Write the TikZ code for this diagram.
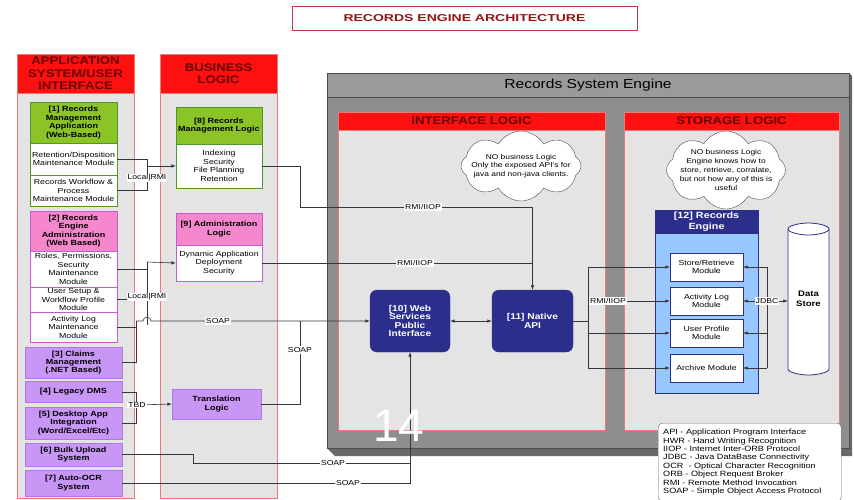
\documentclass[tikz,border=0pt]{standalone}
\usepackage{fontspec}
\setmainfont{Liberation Sans}[FakeStretch=1.2]
\newfontfamily\wideface{Liberation Sans}[FakeStretch=1.4]
\newfontfamily\plainface{Liberation Sans}
\usetikzlibrary{arrows.meta,shapes.symbols}

\newlength{\du}
\setlength{\du}{1pt}

\definecolor{hdrred}{RGB}{252,16,16}
\definecolor{hdrtext}{RGB}{105,0,0}
\definecolor{colfill}{RGB}{228,228,228}
\definecolor{colline}{RGB}{238,120,120}
\definecolor{titleline}{RGB}{190,60,70}
\definecolor{titletext}{RGB}{150,20,20}
\definecolor{rmgreen}{RGB}{140,196,40}
\definecolor{rmline}{RGB}{80,150,40}
\definecolor{adpink}{RGB}{245,135,205}
\definecolor{adline}{RGB}{200,90,210}
\definecolor{clpurple}{RGB}{200,150,245}
\definecolor{clline}{RGB}{175,120,230}
\definecolor{navy}{RGB}{44,46,140}
\definecolor{reblue}{RGB}{150,200,255}
\definecolor{enggray}{RGB}{142,142,142}
\definecolor{engtop}{RGB}{154,154,154}
\definecolor{engshade}{RGB}{105,105,105}
\definecolor{linegray}{RGB}{55,55,55}

\newcommand{\modfont}{\fontsize{7.3}{8.6}\selectfont}
\newcommand{\hdfont}{\fontsize{7.5}{8.4}\selectfont\bfseries}
\newcommand{\colfont}{\fontsize{11}{12.5}\selectfont\bfseries}
\newcommand{\panelfont}{\fontsize{11}{11}\selectfont\bfseries}
\newcommand{\apifont}{\fontsize{8.5}{8.6}\selectfont\bfseries}
\newcommand{\titlefont}{\wideface\fontsize{10}{10}\selectfont\bfseries}
\newcommand{\lblfont}{\fontsize{7.2}{8}\selectfont}

\tikzset{
  colbody/.style={draw=colline, fill=colfill, line width=0.8pt},
  colhead/.style={draw=colline, fill=hdrred, text=hdrtext, font=\colfont, align=center, minimum width=117, minimum height=39, inner sep=0pt},
  titlebox/.style={draw=titleline, fill=white, text=titletext, font=\titlefont, minimum width=345, minimum height=24},
  rmhead/.style={draw=rmline, fill=rmgreen, font=\hdfont, align=center, minimum width=87, inner sep=0pt},
  rmmod/.style={draw=rmline, fill=white, font=\modfont, align=center, minimum width=87, inner sep=0pt},
  adhead/.style={draw=adline, fill=adpink, font=\hdfont, align=center, minimum width=87, inner sep=0pt},
  admod/.style={draw=adline, fill=white, font=\modfont, align=center, minimum width=87, inner sep=0pt},
  clbox/.style={draw=clline, fill=clpurple, font=\hdfont, align=center, minimum width=97, inner sep=0pt},
  engbody/.style={draw=black!70, fill=enggray, line width=0.8pt},
  engbar/.style={draw=black!70, fill=engtop, line width=0.8pt},
  panel/.style={draw=colline, fill=colfill, line width=0.8pt},
  panelhead/.style={draw=colline, fill=hdrred, text=hdrtext, font=\panelfont, minimum height=18, inner sep=0pt},
  cloudnote/.style={cloud, cloud puffs=8, cloud puff arc=120, draw=black!70, fill=white},
  notetext/.style={font=\fontsize{7}{8.8}\selectfont, align=center},
  apibox/.style={draw=navy, fill=navy, text=white, font=\apifont, align=center, rounded corners=7, minimum width=80, minimum height=62},
  rehead/.style={draw=navy, fill=navy, text=white, font=\fontsize{9}{10.5}\selectfont\bfseries, align=center, minimum width=103, minimum height=23, inner sep=0pt},
  rebody/.style={draw=navy, fill=reblue, line width=0.8pt},
  remod/.style={draw=navy, fill=white, font=\modfont, align=center, minimum width=73, minimum height=28, inner sep=0pt},
  dsbody/.style={draw=navy, fill=white, line width=0.8pt},
  legendbox/.style={draw=black!60, fill=white, rounded corners=4, align=left, font=\fontsize{7.6}{8.4}\selectfont, text width=173, inner xsep=5pt, inner ysep=6pt},
  conn/.style={draw=linegray, line width=0.6pt},
  lbl/.style={fill=white, font=\lblfont, inner sep=1pt}
}

\begin{document}
\begin{tikzpicture}[x=\du, y=-\du, >={Latex[length=4.5pt,width=3.5pt]}]
\useasboundingbox (0,0) rectangle (854,499);

% title
\node[titlebox] (title) at (464.5,18) {RECORDS ENGINE ARCHITECTURE};

% left columns
\draw[colbody] (17,93) rectangle (134,498);
\draw[colbody] (160,93) rectangle (277,498);
\node[colhead] (apphd) at (75.5,73.5) {APPLICATION\\SYSTEM/USER\\INTERFACE};
\node[colhead] (bizhd) at (218.5,73.5) {BUSINESS\\LOGIC};

% records system engine
\fill[engshade] (327,448) -- (335,456) -- (852,456) -- (852,76) -- (849,73) -- cycle;
\draw[engbody] (327,73) rectangle (849,448);
\draw[engbar] (327,73) rectangle (849,97);
\node[font=\fontsize{13}{13}\selectfont] (engttl) at (588,85.5) {Records System Engine};
\draw[panel] (338,130) rectangle (605,430);
\node[panelhead, minimum width=267] (ifhd) at (471.5,121) {INTERFACE LOGIC};
\draw[panel] (624,130) rectangle (839,430);
\node[panelhead, minimum width=215] (sthd) at (731.5,121) {STORAGE LOGIC};

% clouds
\node[cloudnote, minimum width=120, minimum height=70] (cld1) at (521,166) {};
\node[notetext] (cldtxt1) at (cld1) {NO business Logic\\Only the exposed API's for\\java and non-java clients.};
\node[cloudnote, minimum width=119, minimum height=78] (cld2) at (726,170) {};
\node[notetext] (cldtxt2) at (cld2) {NO business Logic\\Engine knows how to\\store, retrieve, corralate,\\but not how any of this is\\useful};

% application side
\node[rmhead, minimum height=41] (rmapp) at (73.5,122.5) {[1] Records\\Management\\Application\\(Web-Based)};
\node[rmmod, minimum height=32] (retmod) at (73.5,159) {Retention/Disposition\\Maintenance Module};
\node[rmmod, minimum height=31] (wfmod) at (73.5,190.5) {Records Workflow \&\\Process\\Maintenance Module};
\node[adhead, minimum height=40] (adapp) at (73.5,231) {[2] Records\\Engine\\Administration\\(Web Based)};
\node[admod, minimum height=36] (rolemod) at (73.5,269) {Roles, Permissions,\\Security\\Maintenance\\Module};
\node[admod, minimum height=25] (usermod) at (73.5,299.5) {User Setup \&\\Workflow Profile\\Module};
\node[admod, minimum height=30] (actmod) at (73.5,327) {Activity Log\\Maintenance\\Module};
\node[clbox, minimum height=31] (claims) at (73.5,362.5) {[3] Claims\\Management\\(.NET Based)};
\node[clbox, minimum height=21] (legacy) at (73.5,392) {[4] Legacy DMS};
\node[clbox, minimum height=32] (desktop) at (73.5,423) {[5] Desktop App\\Integration\\(Word/Excel/Etc)};
\node[clbox, minimum height=23] (bulk) at (73.5,454.5) {[6] Bulk Upload\\System};
\node[clbox, minimum height=26] (ocr) at (73.5,483) {[7] Auto-OCR\\System};

% business logic
\node[rmhead, minimum width=86, minimum height=37] (rmlogic) at (219,125.5) {[8] Records\\Management Logic};
\node[rmmod, minimum width=86, minimum height=44] (rmbody) at (219,166) {Indexing\\Security\\File Planning\\Retention};
\node[adhead, minimum width=86, minimum height=32] (admlogic) at (219,229) {[9] Administration\\Logic};
\node[admod, minimum width=86, minimum height=36] (admbody) at (219,263) {Dynamic Application\\Deployment\\Security};
\node[clbox, minimum width=89, minimum height=30] (trans) at (216.5,404) {Translation\\Logic};

% interface logic
\node[apibox] (ws) at (410,321) {[10] Web\\Services\\Public\\Interface};
\node[apibox, minimum width=81] (napi) at (532.5,321) {[11] Native\\API};

% storage logic
\draw[rebody] (655,233) rectangle (758,393);
\node[rehead] (rehd) at (706.5,221.5) {[12] Records\\Engine};
\node[remod] (store) at (706.5,267) {Store/Retrieve\\Module};
\node[remod] (actlog) at (706.5,301) {Activity Log\\Module};
\node[remod] (uprof) at (706.5,333) {User Profile\\Module};
\node[remod] (archive) at (706.5,368) {Archive Module};
\draw[dsbody] (788,229) -- (788,369) .. controls (788,372.3) and (799.4,375) .. (808.5,375)
  .. controls (817.6,375) and (829,372.3) .. (829,369) -- (829,229) -- cycle;
\draw[dsbody] (788,229) .. controls (788,225.7) and (799.4,223) .. (808.5,223)
  .. controls (817.6,223) and (829,225.7) .. (829,229) .. controls (829,232.3) and (817.6,235) .. (808.5,235)
  .. controls (799.4,235) and (788,232.3) .. (788,229) -- cycle;
\node[font=\fontsize{8}{9.5}\selectfont\bfseries, align=center, minimum width=41, minimum height=140, inner sep=0pt] (dstore) at (808.5,299) {Data\\Store};

% legend
\node[legendbox, anchor=north west] (legend) at (658,423) {API - Application Program Interface\\HWR - Hand Writing Recognition\\IIOP - Internet Inter-ORB Protocol\\JDBC - Java DataBase Connectivity\\OCR \ - Optical Character Recognition\\ORB - Object Request Broker\\RMI - Remote Method Invocation\\SOAP - Simple Object Access Protocol};

% junction points
\coordinate (lr1) at (147,166);
\coordinate (lr2) at (147,262);
\coordinate (lr2end) at (147,325);
\coordinate (r1) at (300,207);
\coordinate (s0) at (136,321);
\coordinate (st) at (300,321);
\coordinate (tb) at (136,405);
\coordinate (b1) at (193,463);
\coordinate (ra) at (588,321);
\coordinate (jd) at (767,301);

% connectors
\draw[conn] (retmod.east) -| (lr1);
\draw[conn] (wfmod.east) -| (lr1);
\draw[conn,->] (lr1) -- (rmbody.west);
\draw[conn,->] (rmbody.east) -| (r1) -| (napi.north);
\draw[conn] (admbody.east) -- (admbody.east -| napi.north);
\draw[conn] (rolemod.east) -| (lr2);
\draw[conn,->] (lr2) -- (admbody.west);
\draw[conn] (lr2) -- (lr2end);
\draw[conn] (usermod.east) -- (usermod.east -| lr2);
\draw[conn] (actmod.east) -| (s0);
\draw[conn] (claims.east) -| (s0);
\draw[conn,->] (s0) -- (143,321) .. controls (143,316) and (151,316) .. (151,321) -- (ws.west);
\draw[conn] (trans.east) -| (st);
\draw[conn] (legacy.east) -| (tb);
\draw[conn] (desktop.east) -| (tb);
\draw[conn,->] (tb) -- (trans.west);
\draw[conn] (bulk.east) -| (b1) -- (b1 -| ws.south);
\draw[conn,->] (ocr.east) -| (ws.south);
\draw[conn,<->] (ws.east) -- (napi.west);
\draw[conn] (napi.east) -- (ra);
\draw[conn] (ra |- store.west) -- (ra |- archive.west);
\foreach \m in {store,actlog,uprof,archive}
  \draw[conn,->] (ra |- \m.west) -- (\m.west);
\draw[conn] (jd |- store.east) -- (jd |- archive.east);
\foreach \m in {store,actlog,uprof,archive}
  \draw[conn,->] (jd |- \m.east) -- (\m.east);
\draw[conn,->] (jd) -- (jd -| dstore.west);

% connector labels
\node[lbl] (lbrmi1) at (147,178) {Local|RMI};
\node[lbl] (lbrmi2) at (147,297) {Local|RMI};
\node[lbl] (lbiiop1) at (423,207) {RMI/IIOP};
\node[lbl] (lbiiop2) at (415,263) {RMI/IIOP};
\node[lbl] (lbsoap1) at (218,321) {SOAP};
\node[lbl] (lbsoap2) at (300,350) {SOAP};
\node[lbl] (lbtbd) at (137,405) {TBD};
\node[lbl] (lbsoap3) at (333,463) {SOAP};
\node[lbl] (lbsoap4) at (348,483) {SOAP};
\node[lbl] (lbiiop3) at (608,301) {RMI/IIOP};
\node[lbl] (lbjdbc) at (767,301) {JDBC};

% page number
\node[text=white, font=\plainface\fontsize{46}{46}\selectfont] (pgno) at (399,426) {14};
\end{tikzpicture}
\end{document}
